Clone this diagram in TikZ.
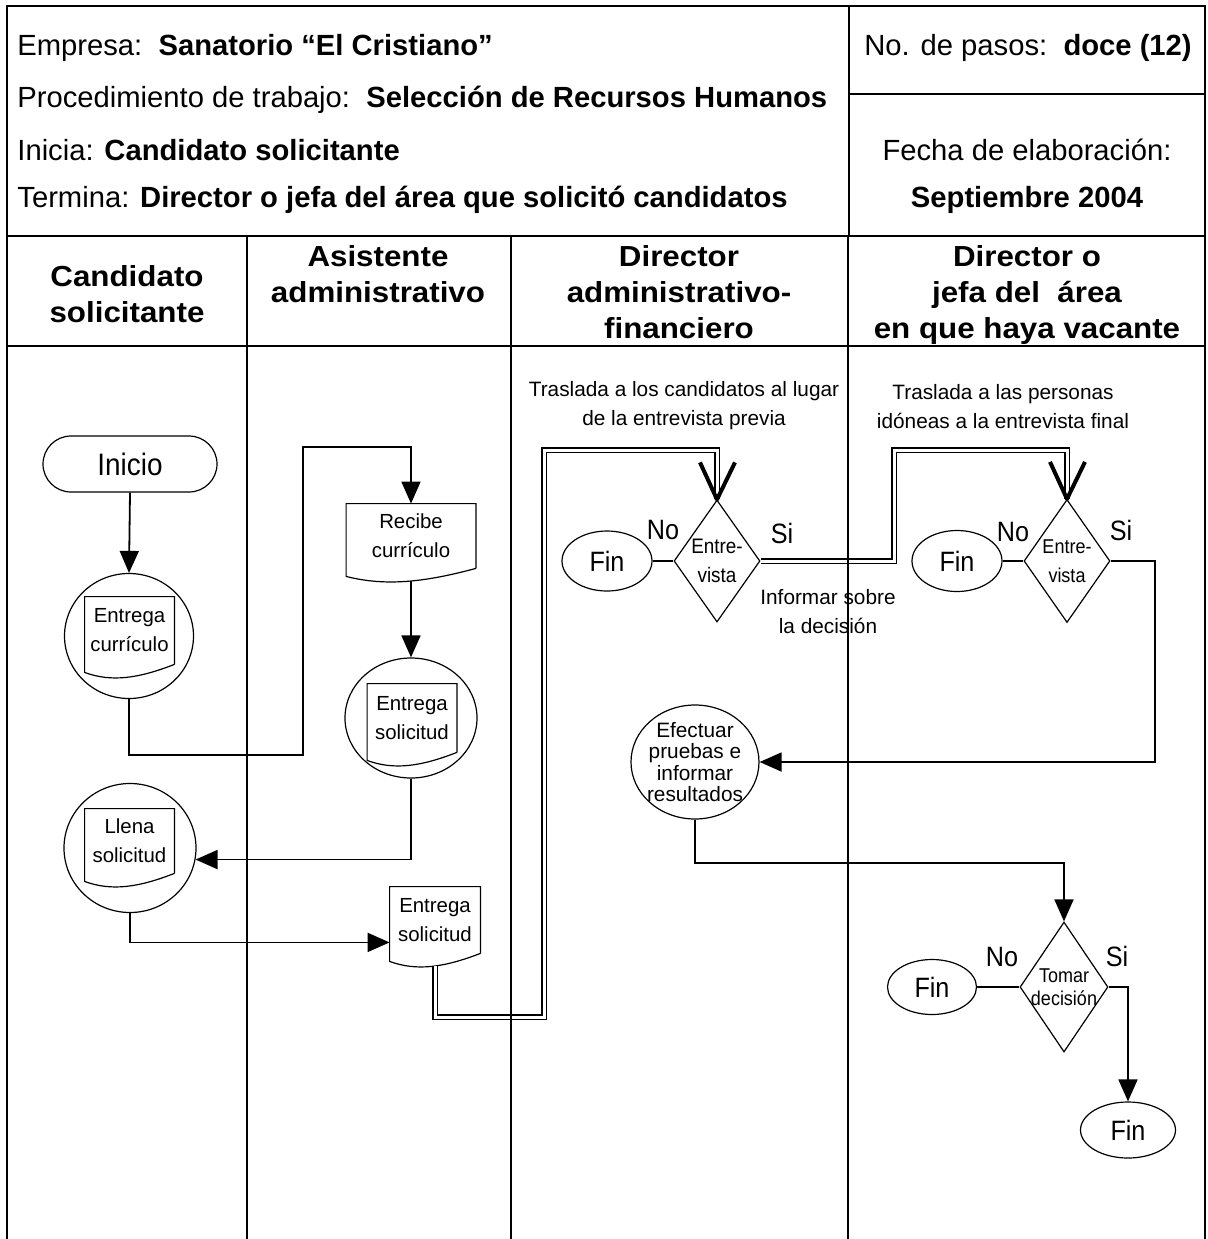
\documentclass[tikz,border=0pt]{standalone}
\usepackage{fontspec}
\setmainfont{Liberation Sans}
\newfontfamily\lanefont{Liberation Sans}[FakeStretch=1.08]
\newfontfamily\flowfont{Liberation Sans}
\newfontfamily\tallfont{Liberation Sans}[FakeStretch=0.9]
\usetikzlibrary{calc, arrows.meta, shapes.geometric, shapes.misc}

\tikzset{
  grid line/.style={line width=0.9pt},
  shape line/.style={line width=0.6pt},
  flow/.style={line width=0.9pt},
  flow arrow/.style={flow, -{Triangle[length=11pt, width=9.5pt]}},
  double flow/.style={double, double distance=1.5pt, line width=0.6pt},
  barb/.style={line width=2pt, line join=round},
  terminal/.style={rounded rectangle, draw, shape line, inner sep=0pt, font=\tallfont\fontsize{15.5}{17}\selectfont},
  fin/.style={ellipse, draw, shape line, inner sep=0pt, font=\tallfont\fontsize{14}{16}\selectfont},
  task circle/.style={ellipse, draw, shape line, inner sep=0pt},
  doc/.style={rectangle, inner sep=0pt, align=center, font=\flowfont\fontsize{10.2}{14.5}\selectfont},
  decision/.style={diamond, draw, shape line, inner xsep=-3pt, inner ysep=0pt, shape aspect=0.7, align=center, font=\tallfont\fontsize{10.5}{14.5}\selectfont},
  note/.style={align=center, font=\flowfont\fontsize{10.4}{14.5}\selectfont},
  answer/.style={font=\tallfont\fontsize{14}{16}\selectfont},
  lane head/.style={align=center, inner sep=0pt, font=\lanefont\bfseries\fontsize{14.5}{18}\selectfont},
  head text/.style={anchor=west, inner sep=0pt, font=\fontsize{14.6}{16}\selectfont},
}

% Document outline with wavy bottom
\newcommand\docedge[1]{%
  \draw[shape line] (#1.south east) -- (#1.north east) -- (#1.north west) -- ($(#1.south west)+(0,8)$)
    .. controls ($(#1.south east)!0.7!(#1.south west)+(0,18)$) and ($(#1.south east)!0.4!(#1.south west)+(0,14)$) .. (#1.south east);}

\begin{document}
\begin{tikzpicture}[x=0.5pt, y=-0.5pt]

% Page
\fill[white] (0,0) rectangle (1208,1239);
\useasboundingbox (0,0) rectangle (1208,1239);

% Define bend points
\coordinate (K1) at (303,755);
\coordinate (K2) at (303,447);
\coordinate (K3) at (435,1017);
\coordinate (K4) at (544,450);
\coordinate (K5) at (894,450);
\coordinate (K6) at (1155,762);

% Header texts
\node[head text] (Emp) at (17,48) {Empresa:\ \ \textbf{Sanatorio “El Cristiano”}};
\node[head text] (Proc) at (17,100) {Procedimiento de trabajo:\ \ \textbf{Selección de Recursos Humanos}};
\node[head text] (Ini0) at (17,150) {Inicia: \textbf{Candidato solicitante}};
\node[head text] (Ter) at (17,200) {Termina: \textbf{Director o jefa del área que solicitó candidatos}};
\node[head text] (Pasos) at (864,48) {No. de pasos:\ \ \textbf{doce (12)}};
\node[head text, anchor=center] (Fecha) at (1027,150) {Fecha de elaboración:};
\node[head text, anchor=center] (Sept) at (1027,200) {\textbf{Septiembre 2004}};

% Lane titles
\node[lane head, anchor=north] (L1) at (127,265) {Candidato\\solicitante};
\node[lane head, anchor=north] (L2) at (378,245) {Asistente\\administrativo};
\node[lane head, anchor=north] (L3) at (679,245) {Director\\administrativo-\\financiero};
\node[lane head, anchor=north] (L4) at (1027,245) {Director o\\jefa del\ \ área\\en que haya vacante};

% Candidato solicitante
\node[terminal, minimum width=87pt, minimum height=28pt] (Ini) at (130,464) {Inicio};
\node[task circle, minimum width=64.5pt, minimum height=62.5pt] (C1) at (129,636) {};
\node[doc, minimum width=44.5pt, minimum height=33.5pt] (C1doc) at (129.5,630.5) {Entrega\\currículo};
\docedge{C1doc}
\node[task circle, minimum width=66pt, minimum height=64.5pt] (Ll) at (130,848) {};
\node[doc, minimum width=44.5pt, minimum height=32pt] (Lldoc) at (129.5,841) {Llena\\solicitud};
\docedge{Lldoc}

% Asistente administrativo
\node[doc, minimum width=64.5pt, minimum height=32pt] (Rec) at (411,536) {Recibe\\currículo};
\docedge{Rec}
\node[task circle, minimum width=66pt, minimum height=60pt] (C2) at (411,718) {};
\node[doc, minimum width=44.5pt, minimum height=34pt] (C2doc) at (412,718) {Entrega\\solicitud};
\docedge{C2doc}
\node[doc, minimum width=45pt, minimum height=33pt] (Es) at (435,920) {Entrega\\solicitud};
\docedge{Es}

% Director administrativo-financiero
\node[decision, minimum width=43pt, minimum height=61pt] (D1) at (717,561) {Entre-\\vista};
\node[fin, minimum width=45pt, minimum height=30pt] (F1) at (607,561) {Fin};
\node[task circle, minimum width=64pt, minimum height=57pt, inner sep=-2pt, align=center, font=\flowfont\fontsize{10.4}{10.8}\selectfont] (Ef) at (695,762) {Efectuar\\pruebas e\\informar\\resultados};

% Director o jefa del area
\node[decision, minimum width=43pt, minimum height=61.5pt, font=\tallfont\fontsize{10}{14.5}\selectfont] (D2) at (1067,561) {Entre-\\vista};
\node[fin, minimum width=45pt, minimum height=30.5pt] (F2) at (957,561) {Fin};
\node[decision, minimum width=44pt, minimum height=65pt, font=\tallfont\fontsize{10}{11.5}\selectfont] (D3) at (1064,987) {Tomar\\decisión};
\node[fin, minimum width=44.5pt, minimum height=27.5pt] (F3) at (932,987) {Fin};
\node[fin, minimum width=47.5pt, minimum height=28pt] (F4) at (1128,1130) {Fin};

% Notes
\node[note] (N1) at (684,406) {Traslada a los candidatos al lugar\\de la entrevista previa};
\node[note] (N2) at (1003,407) {Traslada a las personas\\idóneas a la entrevista final};
\node[note] (N3) at (828,612) {Informar sobre\\la decisión};

% Answers
\node[answer] (No1) at (663,530) {No};
\node[answer] (Si1) at (782,533) {Si};
\node[answer] (No2) at (1013,532) {No};
\node[answer] (Si2) at (1121,530) {Si};
\node[answer] (No3) at (1002,957) {No};
\node[answer] (Si3) at (1117,956) {Si};

% Draw flow lines
\draw[flow arrow] (Ini.south) -- (C1.north);
\draw[flow arrow] (C1.south) |- (K1) -- (K2) -| (Rec.north);
\draw[flow arrow] ($(Rec.south)+(0,13)$) -- (C2.north);
\draw[flow arrow] (C2.south) |- (Ll.-10);
\draw[flow arrow] (Ll.south) |- ($(Es.south west)+(0,-11)$);

% Draw double lines
\draw[double flow] ($(Es.south)+(0,13)$) -- (K3) -| (K4) -| (D1.north);
\draw[barb] ($(D1.north)+(-17,-37)$) -- (D1.north) -- ($(D1.north)+(18,-37)$);
\draw[double flow] (D1.east) -| (K5) -| (D2.north);
\draw[barb] ($(D2.north)+(-17,-37)$) -- (D2.north) -- ($(D2.north)+(18,-37)$);

% Draw decision exits
\draw[flow] (F1.east) -- (D1.west);
\draw[flow] (F2.east) -- (D2.west);
\draw[flow arrow] (D2.east) -| (K6) -- (Ef.east);
\draw[flow arrow] (Ef.south) -- ++(0,43) -| (D3.north);
\draw[flow] (F3.east) -- (D3.west);
\draw[flow arrow] (D3.east) -| (F4.north);

% Draw frame and lanes
\draw[grid line] (7,6) rectangle (1205,236);
\draw[grid line] (849,6) -- (849,236);
\draw[grid line] (849,94) -- (1205,94);
\draw[grid line] (7,346) -- (1205,346);
\draw[grid line] (7,236) -- (7,1239);
\draw[grid line] (247,236) -- (247,1239);
\draw[grid line] (511,236) -- (511,1239);
\draw[grid line] (848,236) -- (848,1239);
\draw[grid line] (1205,236) -- (1205,1239);

\end{tikzpicture}
\end{document}
